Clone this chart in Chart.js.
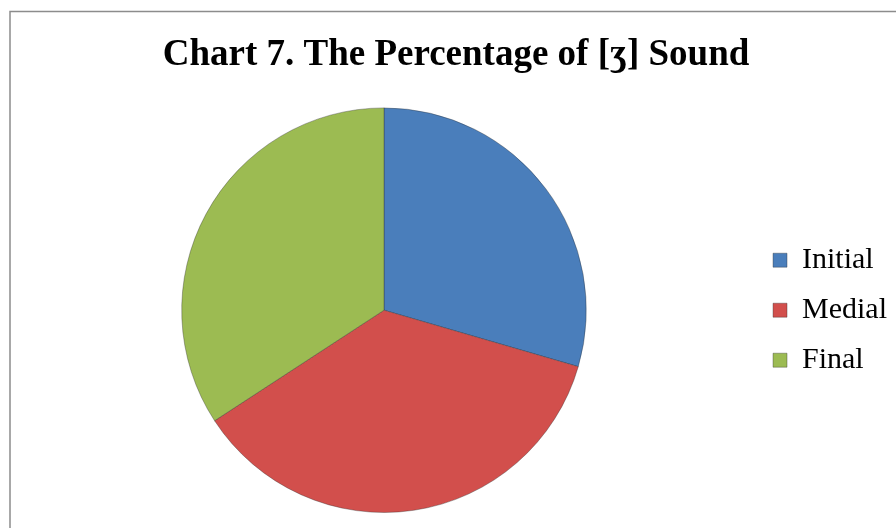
<!DOCTYPE html>
<html>
<head>
<meta charset="utf-8">
<script src="https://cdn.jsdelivr.net/npm/chart.js@4"></script>
<style>
  body { margin: 0; background: #fff; }
  #wrap { width: 896px; height: 528px; }
</style>
</head>
<body>
<div id="wrap"><canvas id="myChart" width="896" height="528"></canvas></div>
<script>
// data
const positions = ['Initial', 'Medial', 'Final'];
const percents = [29.5, 36.3, 34.2];
const colors = ['#4a7ebb', '#d24f4c', '#9cbb52'];

// background + frame (only top and left edges are visible in the picture)
const frame = {
  id: 'frame',
  beforeDraw(chart) {
    const ctx = chart.ctx;
    ctx.save();
    ctx.fillStyle = '#fff';
    ctx.fillRect(0, 0, chart.width, chart.height);
    ctx.strokeStyle = '#8c8c8c';
    ctx.lineWidth = 1.5;
    ctx.strokeRect(10, 11.5, chart.width + 10, chart.height + 10);
    ctx.restore();
  }
};

const config_pie = {
  type: 'pie',
  data: {
    labels: positions,
    datasets: [{
      data: percents,
      backgroundColor: colors,
      borderColor: 'rgba(40,40,40,0.35)',
      borderWidth: 1
    }]
  },
  options: {
    responsive: false,
    animation: false,
    layout: { padding: { left: 15, right: -1, bottom: 15 } },
    plugins: {
      title: {
        display: true,
        text: 'Chart 7. The Percentage of [ʒ] Sound',
        color: '#000',
        font: { family: '"Liberation Serif", "Times New Roman", serif', size: 37, weight: 'bold' },
        padding: { top: 33, bottom: 30 }
      },
      legend: {
        position: 'right',
        fullSize: false,
        labels: {
          color: '#000',
          font: { family: '"Liberation Serif", "Times New Roman", serif', size: 30 },
          boxWidth: 14,
          boxHeight: 14,
          padding: 20
        }
      },
      tooltip: { enabled: false }
    }
  },
  plugins: [frame]
};

const myChart = new Chart(document.getElementById('myChart'), config_pie);
</script>
</body>
</html>
